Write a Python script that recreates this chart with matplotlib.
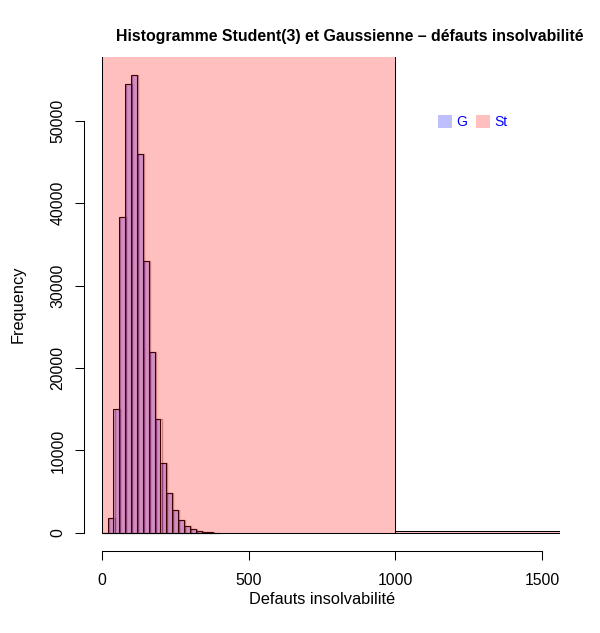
import matplotlib
matplotlib.use("Agg")
import matplotlib.pyplot as plt
from matplotlib.patches import Patch
import numpy as np

plt.rcParams["font.family"] = ["Liberation Sans", "DejaVu Sans"]

# Gaussian histogram, bins of 20
g_edges = np.arange(0, 420, 20)
g_counts = [20, 1780, 15010, 38310, 54490, 55540, 45960, 32970, 22000, 13850,
            8500, 4810, 2770, 1560, 870, 470, 220, 110, 50, 20]

# Student(3) histogram, bins of 1000
st_edges = [0, 1000, 2000]
st_counts = [299800, 230]

x_ticks = [0, 500, 1000, 1500]
y_ticks = [0, 10000, 20000, 30000, 40000, 50000]

blue_a = (0, 0, 1, 0.25)
red_a = (1, 0, 0, 0.25)

fig = plt.figure(figsize=(6, 6.33), dpi=100)
ax = fig.add_axes([0.14, 0.1295, 0.7933, 0.7804])

# faint offset outline behind the gaussian bars
ax.bar(g_edges[:-1] + 4, g_counts, width=np.diff(g_edges), align="edge",
       color="none", edgecolor=(0.25, 0, 0.1, 0.35), linewidth=1.0)
ax.bar(g_edges[:-1], g_counts, width=np.diff(g_edges), align="edge",
       color=blue_a, edgecolor="black", linewidth=0.75)
ax.bar(st_edges[:-1], st_counts, width=np.diff(st_edges), align="edge",
       color=red_a, edgecolor="black", linewidth=0.75)

ymax = max(g_counts)
ax.set_xlim(-60, 1560)
ax.set_ylim(-0.04 * ymax, 1.04 * ymax)

for s in ["top", "right"]:
    ax.spines[s].set_visible(False)
ax.spines["left"].set_bounds(0, 50000)
ax.spines["bottom"].set_bounds(0, 1500)
for s in ["left", "bottom"]:
    ax.spines[s].set_linewidth(0.75)

ax.set_xticks(x_ticks)
ax.set_yticks(y_ticks)
ax.set_yticklabels([str(v) for v in y_ticks], rotation=90, va="center")
ax.tick_params(length=6.5, width=0.75, labelsize=11.3, pad=7)
ax.tick_params(axis="x", pad=9)

ax.set_xlabel("Defauts insolvabilité", fontsize=11.8, labelpad=3)
ax.set_ylabel("Frequency", fontsize=11.8, labelpad=18)

fig.text(350 / 600, 1 - 41 / 633,
         "Histogramme Student(3) et Gaussienne – défauts insolvabilité",
         ha="center", va="baseline", fontsize=11.4, fontweight="bold")

handles = [Patch(facecolor=blue_a, edgecolor="none"),
           Patch(facecolor=red_a, edgecolor="none")]
ax.legend(handles, ["G", "St"], ncol=2, frameon=False, labelcolor="blue",
          fontsize=10, handlelength=1.0, handleheight=1.0,
          handletextpad=0.35, columnspacing=0.6,
          loc="center", bbox_to_anchor=(0.817, 0.868))

fig.savefig("out.png", dpi=100)
